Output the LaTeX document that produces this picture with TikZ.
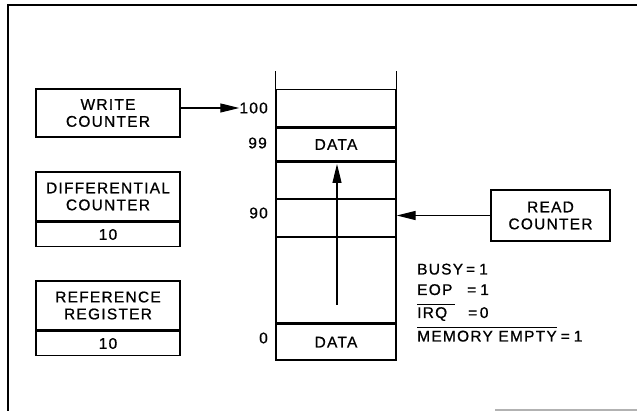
\documentclass[tikz,border=0pt]{standalone}
\usepackage{fontspec}
\setmainfont{Liberation Sans}[LetterSpace=8, FakeBold=0.8]
\usetikzlibrary{arrows.meta}
\newcommand\ovl[1]{\leavevmode\vbox{\hrule height 1.4pt\kern 2.2pt\hbox{#1}}}
\begin{document}
\begin{tikzpicture}[x=1pt,y=-1pt,
  every node/.style={font=\fontsize{15.5}{17}\selectfont, inner sep=0pt},
  box/.style={draw, line width=1.5pt, minimum width=144pt, align=center},
  cell/.style={draw, line width=1.3pt, minimum width=120pt, anchor=north},
  arr/.style={line width=1.2pt, -{Triangle[length=19pt,width=9pt]}},
  lbl/.style={anchor=east},
  stat/.style={anchor=base west}]
\useasboundingbox (0,0) rectangle (637,411);
% frame
\draw[line width=2pt] (7.5,411) -- (7.5,5.5) -- (637,5.5);
\draw[gray!60, line width=1.5pt] (495,410) -- (637,410);
% left boxes
\node[box, minimum height=48pt] (wc) at (108,113) {WRITE\\COUNTER};
\node[box, minimum height=49pt] (dc) at (108,196.5) {DIFFERENTIAL\\COUNTER};
\node[box, minimum height=24pt, anchor=north] (dcv) at (dc.south) {10};
\node[box, minimum height=49pt] (rr) at (108,305.5) {REFERENCE\\REGISTER};
\node[box, minimum height=24pt, anchor=north] (rrv) at (rr.south) {10};
% read counter
\node[box, minimum width=119pt, minimum height=51pt] (rc) at (550.5,215.5) {READ\\COUNTER};
% memory column
\node[cell, minimum height=37pt] (c100) at (336,89) {};
\node[cell, minimum height=33pt] (c99) at (c100.south) {DATA};
\node[cell, minimum height=36pt] (c98) at (c99.south) {};
\node[cell, minimum height=37pt] (c90) at (c98.south) {};
\node[cell, minimum height=85pt] (cmid) at (c90.south) {};
\node[cell, minimum height=36pt] (c0) at (cmid.south) {DATA};
\draw[line width=1.3pt] (c100.north west) -- ++(0,-18);
\draw[line width=1.3pt] (c100.north east) -- ++(0,-18);
% address labels
\node[lbl] (l100) at (268,108) {100};
\node[lbl] (l99) at (267,143) {99};
\node[lbl] (l90) at (268,213) {90};
\node[lbl] (l0) at (268,338) {0};
% arrows
\draw[arr] (wc.east |- l100) -- (l100.west);
\draw[arr] (rc.west) -- (rc.west -| c90.east);
\coordinate (ua) at (337,305);
\coordinate (ub) at (337,164);
\draw[arr] (ua) -- (ub);
% status
\node[stat] (s1) at (417,274.5) {BUSY\hspace{3pt}=\hspace{4pt}1};
\node[stat] (s2) at (417,295) {\makebox[50pt][l]{EOP}=\hspace{4pt}1};
\node[stat] (s3) at (417,318) {\ovl{\makebox[38pt][l]{IRQ}}\hspace{13pt}=\,0};
\node[stat] (s4) at (417,341.5) {\ovl{MEMORY EMPTY}\hspace{4pt}=\hspace{4pt}1};
\end{tikzpicture}
\end{document}
